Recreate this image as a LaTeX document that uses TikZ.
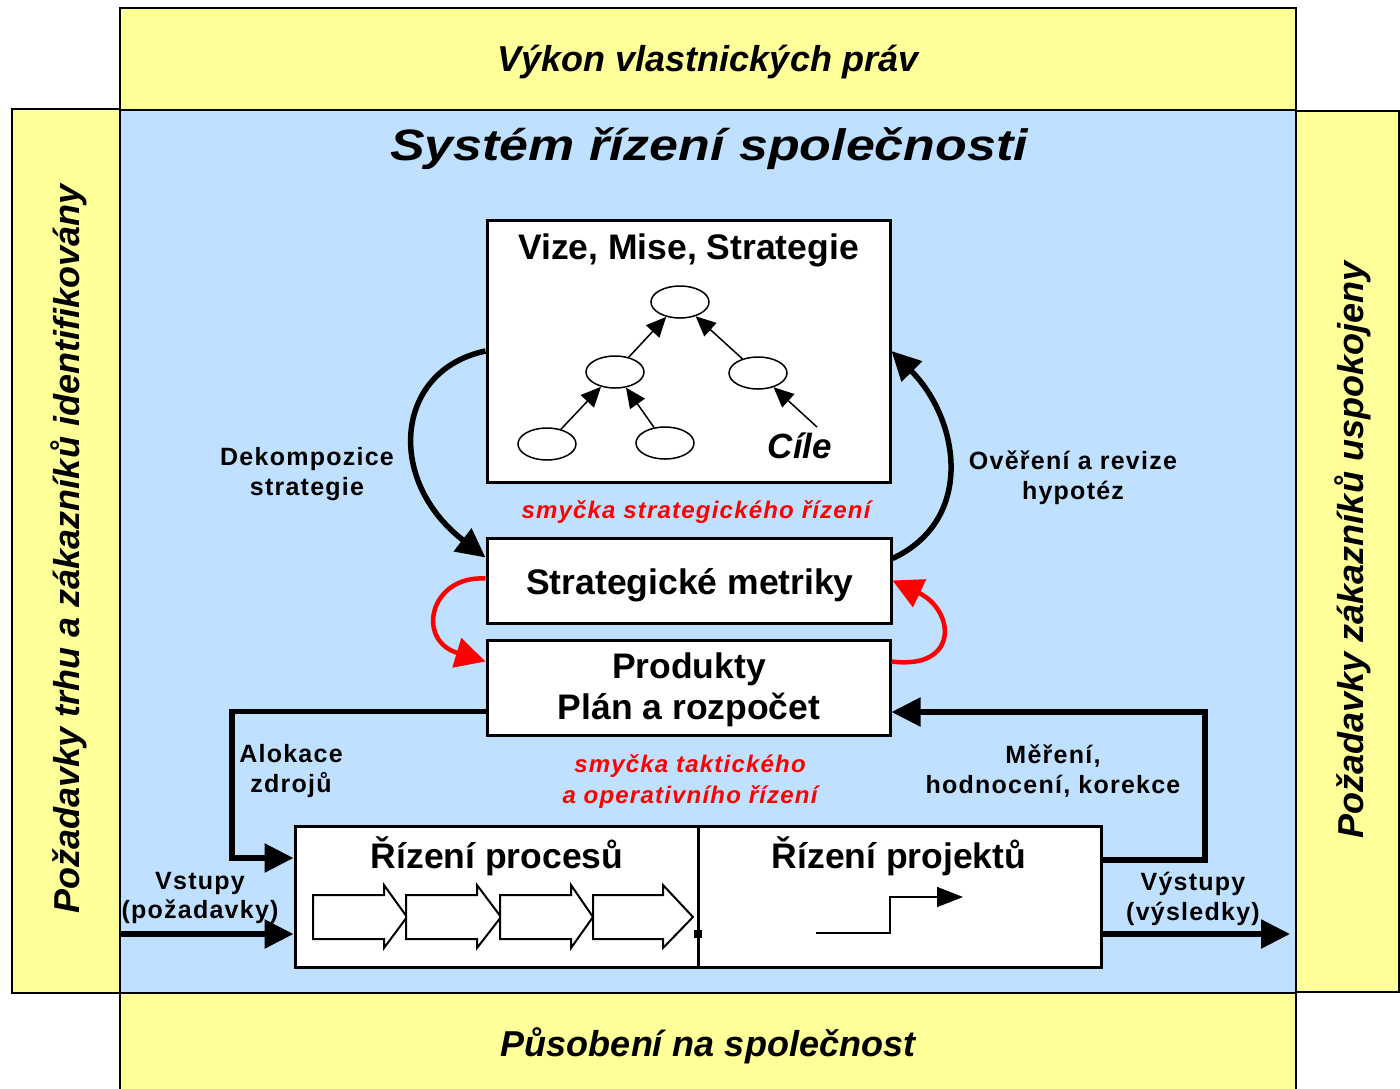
\documentclass[tikz,border=0pt]{standalone}
\usepackage{fontspec}
\setmainfont{Liberation Sans}
\newfontfamily\lsfont[LetterSpace=5]{Liberation Sans}
\newfontfamily\ttlfont[FakeStretch=1.18]{Liberation Sans}
\usetikzlibrary{arrows.meta,shapes.geometric}
\definecolor{ylw}{HTML}{FFFF99}
\definecolor{blu}{HTML}{BFE0FF}
\begin{document}
\begin{tikzpicture}[x=1pt,y=-1pt,
  panel/.style={draw=black, line width=1.5pt, fill=ylw},
  box/.style={draw=black, line width=3pt, fill=white, inner sep=0pt},
  conn/.style={line width=5.5pt, -{Triangle[length=29pt,width=28pt]}},
  redc/.style={red, line width=4.5pt, -{Triangle[length=30pt,width=30pt]}},
  tree/.style={line width=1.5pt, -{Triangle[length=20pt,width=18pt]}},
  oval/.style={ellipse, draw, line width=1.5pt, fill=white, minimum width=58pt, minimum height=32pt, inner sep=0pt},
  big/.style={font=\fontsize{36}{40}\selectfont\bfseries\itshape, inner sep=0pt},
  btitle/.style={font=\fontsize{35.5}{41}\selectfont\bfseries, align=center, inner sep=0pt},
  lbl/.style={font=\lsfont\fontsize{25}{29.5}\selectfont\bfseries, align=center, inner sep=0pt},
  redlbl/.style={text=red, font=\lsfont\fontsize{24}{31}\selectfont\bfseries\itshape, align=center, inner sep=0pt},
]
\useasboundingbox (0,0) rectangle (1400,1088);
\fill[white] (0,0) rectangle (1400,1088);
% panels
\draw[panel] (120,8) rectangle (1296,110);
\draw[panel] (12,109) rectangle (120,993);
\draw[panel] (1296,111) rectangle (1399,992);
\draw[panel] (120,993) rectangle (1296,1092);
\draw[fill=blu, line width=2pt] (120,110) rectangle (1296,993);
% panel texts
\node[big] (ttop) at (708,62) {Výkon vlastnických práv};
\node[big] (tbot) at (708,1046) {Působení na společnost};
\node[big, rotate=90] (tleft) at (69,549) {Požadavky trhu a zákazníků identifikovány};
\node[big, rotate=90] (tright) at (1353,550) {Požadavky zákazníků uspokojeny};
\node[font=\ttlfont\fontsize{44}{48}\selectfont\bfseries\itshape, inner sep=0pt] (title) at (709,149) {Systém řízení společnosti};
% main boxes
\node[box, minimum width=403pt, minimum height=262pt] (vms) at (688.5,351) {};
\node[btitle] (vmst) at (688.5,250) {Vize, Mise, Strategie};
\node[box, minimum width=404pt, minimum height=85pt] (sm) at (689,580.5) {};
\node[btitle] (smt) at (690,585) {Strategické metriky};
\node[box, minimum width=403pt, minimum height=95pt] (prod) at (688.5,687.5) {};
\node[btitle] (prodt) at (689,690) {Produkty\\Plán a rozpočet};
\node[box, minimum width=403pt, minimum height=141pt] (rp) at (496.5,896.5) {};
\node[btitle] (rpt) at (497,856) {Řízení procesů};
\node[box, minimum width=403pt, minimum height=141pt] (rpj) at (899.5,896.5) {};
\node[btitle] (rpjt) at (899,856) {Řízení projektů};
% tree
\node[oval] (e1) at (680,302) {};
\node[oval] (e2) at (615,372) {};
\node[oval] (e3) at (758,373) {};
\node[oval] (e4) at (547,444) {};
\node[oval] (e5) at (665,443) {};
\node[font=\fontsize{35}{40}\selectfont\bfseries\itshape, inner sep=0pt] (cile) at (800,446) {Cíle};
\coordinate (cs) at (817,427);
\draw[tree] (e2) -- (e1);
\draw[tree] (e3) -- (e1);
\draw[tree] (e4) -- (e2);
\draw[tree] (e5) -- (e2);
\draw[tree] (cs) -- (e3);
% process chevrons
\foreach \a/\b/\c in {313/384/407, 406/477/501, 500/571/593, 593/663/693}{
  \draw[line width=2pt, fill=white, line join=miter]
    (\a,895) -- (\b,895) -- (\b,885) -- (\c,917) -- (\b,948) -- (\b,939) -- (\a,939) -- cycle;
}
\fill (694,930) rectangle (702,938);
% project step
\coordinate (ps) at (816,933);
\coordinate (pe) at (963,897);
\draw[line width=1.5pt, -{Triangle[length=26pt,width=20pt]}] (ps) -- (890,933) -- (890,897) -- (pe);
% strategic loop
\draw[conn] (vms.west) .. controls (395,370) and (385,480) .. ([yshift=23pt]sm.west);
\draw[conn] ([yshift=22pt]sm.east) .. controls (975,520) and (960,420) .. (vms.east);
% red loops
\draw[redc] ([yshift=2pt]sm.west) .. controls (430,575) and (415,640) .. ([yshift=26pt]prod.west);
\draw[redc] ([yshift=26pt]prod.east) .. controls (960,670) and (955,610) .. (sm.east);
% tactical loop
\coordinate (lb) at (232,858);
\coordinate (rb) at (1205,712);
\draw[conn] ([yshift=-24pt]prod.west) -| (lb) -- ([yshift=38.5pt]rp.west);
\draw[conn] ([yshift=36.5pt]rpj.east) -| (rb) -- ([yshift=-24.5pt]prod.east);
% inputs / outputs
\coordinate (in) at (120,934);
\coordinate (out) at (1290,934);
\draw[conn] (in) -- (in -| rp.west);
\draw[conn] (out -| rpj.east) -- (out);
% labels
\node[lbl] (ldek) at (307,474) {Dekompozice\\strategie};
\node[lbl] (lover) at (1073,478) {Ověření a revize\\hypotéz};
\node[redlbl] (lss) at (696,512) {smyčka strategického řízení};
\node[lbl] (lalo) at (291,771) {Alokace\\zdrojů};
\node[redlbl] (lst) at (690,782) {smyčka taktického\\a operativního řízení};
\node[lbl] (lmer) at (1053,771) {Měření,\\hodnocení, korekce};
\node[lbl] (lvst) at (200,898) {Vstupy\\(požadavky)};
\node[lbl] (lvys) at (1193,899) {Výstupy\\(výsledky)};
\end{tikzpicture}
\end{document}
